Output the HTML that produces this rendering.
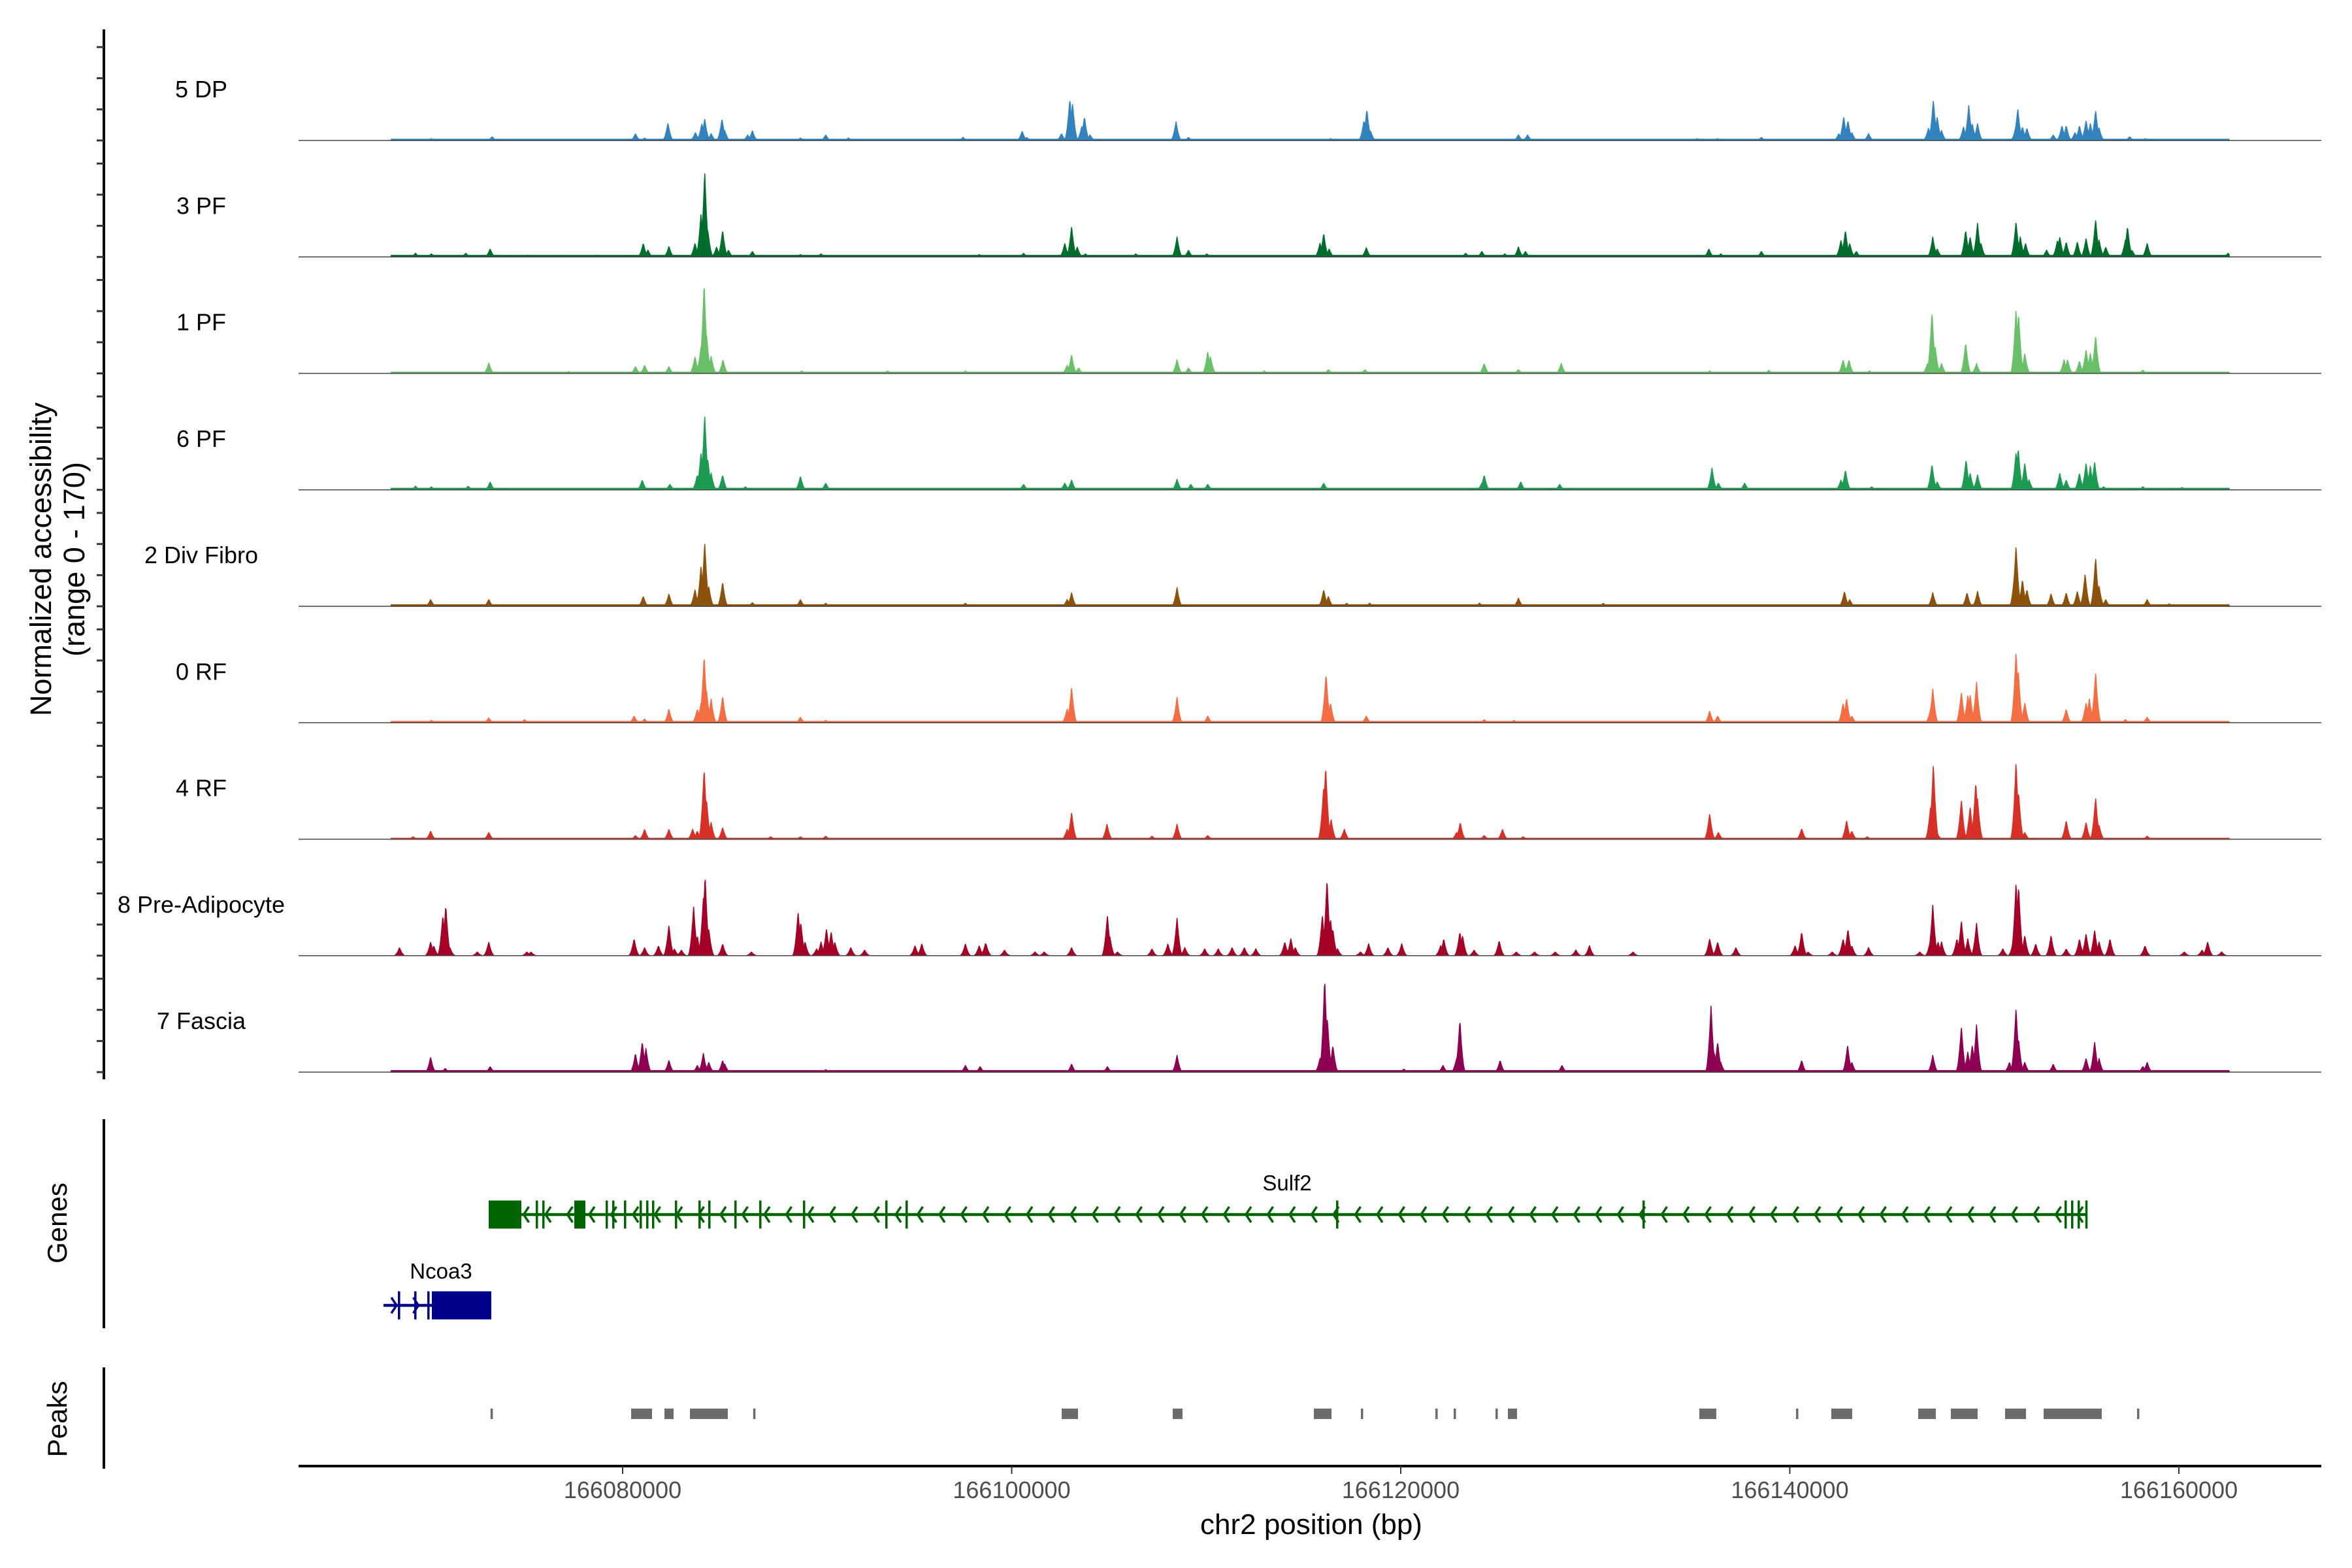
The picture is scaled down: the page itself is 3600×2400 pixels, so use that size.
<!DOCTYPE html>
<html><head><meta charset="utf-8">
<style>
html,body{margin:0;padding:0;background:#fff;}
svg{display:block;font-family:"Liberation Sans",sans-serif;}
</style></head>
<body>
<svg id="chart" xmlns="http://www.w3.org/2000/svg" width="3600" height="2400" viewBox="0 0 3600 2400">
<rect width="3600" height="2400" fill="#fff"/>
<g id="tracks"></g>
<g id="yaxis"></g>
<g id="genes"></g>
<g id="peaks"></g>
<g id="xaxis"></g>
<text transform="translate(78,856) rotate(-90)" text-anchor="middle" font-size="45" fill="#000">Normalized accessibility</text>
<text transform="translate(129,856) rotate(-90)" text-anchor="middle" font-size="45" fill="#000">(range 0 - 170)</text>
<text transform="translate(102,1872) rotate(-90)" text-anchor="middle" font-size="42" fill="#000">Genes</text>
<text transform="translate(102,2172) rotate(-90)" text-anchor="middle" font-size="42" fill="#000">Peaks</text>
<text x="2007" y="2348" text-anchor="middle" font-size="44" fill="#000">chr2 position (bp)</text>
</svg>
<script>
// ---- data (positions in kb relative to 166,000 kb; values in normalized accessibility 0-170) ----
const trackNames = ["5 DP","3 PF","1 PF","6 PF","2 Div Fibro","0 RF","4 RF","8 Pre-Adipocyte","7 Fascia"];
const trackColors = ["#3182bd","#006d2c","#6abf69","#1d9a52","#8c510a","#f46d43","#d73027","#a50026","#8e0152"];
const floorLevel = [2,2.5,2,2.5,2.5,2,1.5,0,2.5];
const coverageStartKb = 68.1;
const coverageEndKb = 162.6;
const peaksDP5 = [[70.17,3],[73.29,6],[80.66,11],[81.13,4],[82.33,28],[83.74,13],[84.07,27],[84.22,35],[84.55,11],[85.11,35],[85.25,16],[86.67,16],[86.43,9],[89.14,4],[90.44,9],[91.61,4],[97.50,5],
[100.54,15],[100.77,5],[102.56,11],[102.99,67],[103.13,60],[103.60,22],[103.74,38],[104.03,9],[108.45,30],[109.09,5],[116.39,3],[118.11,32],[118.26,50],[118.44,16],[126.05,9],[126.52,9],[135.24,3],
[136.29,3],[138.54,5],[142.52,11],[142.77,38],[142.99,32],[143.19,13],[144.05,11],[147.13,20],[147.38,65],[147.58,38],[147.80,16],[148.93,22],[149.20,56],[149.38,27],[149.65,27],[151.63,24],[151.72,51],[151.96,22],[152.19,20],[153.54,9],[153.99,24],[154.21,24],[154.66,13],[154.89,24],[155.23,32],[155.45,27],[155.72,48],[155.90,20],[157.47,6],[158.26,3]];
const peaksPF3 = [[69.35,6],[70.17,5],[71.94,6],[73.19,13],[75.12,3],[76.77,3],[78.66,3],[81.06,22],[81.30,11],[82.38,17],[83.72,22],[84.03,70],[84.22,138],[84.38,43],[84.83,16],[85.14,43],[85.44,11],[86.67,9],[89.14,4],[90.20,5],[98.33,4],
[100.61,6],[102.73,22],[103.08,49],[103.37,16],[103.79,5],[106.38,5],[108.50,32],[109.09,11],[110.03,5],[116.04,38],[115.85,22],[116.32,13],[118.23,15],[123.34,6],[124.17,9],[125.35,5],[126.05,16],[126.41,9],[135.24,3],
[135.84,13],[136.45,5],[138.54,9],[142.63,27],[142.86,43],[143.08,22],[143.42,9],[147.35,32],[147.58,13],[149.04,43],[149.27,32],[149.65,54],[149.83,22],[151.63,56],[151.85,32],[152.12,22],[153.20,11],[153.76,27],[153.88,32],[154.21,24],[154.78,24],[155.23,30],[155.72,60],[155.90,27],[156.24,16],[157.36,49],[157.25,27],[157.59,11],[158.37,22],[162.53,6]];
const peaksPF1 = [[73.12,17],[77.24,3],[80.66,11],[81.13,13],[82.38,11],[83.72,27],[84.03,43],[84.19,146],[84.31,65],[84.55,27],[85.16,22],[89.21,4],[93.62,4],[97.62,4],
[103.08,30],[102.85,13],[103.44,9],[108.50,22],[109.09,9],[110.08,35],[110.22,27],[112.98,4],[116.28,6],[118.16,6],[124.29,16],[126.05,6],[128.25,16],
[135.88,4],[138.92,5],[142.74,22],[143.04,22],[144.09,4],[147.08,16],[147.31,100],[147.47,43],[147.80,16],[149.04,49],[149.60,16],[151.63,103],[151.76,97],[152.08,32],[154.10,22],[154.28,22],[154.89,20],[155.23,38],[155.72,60],[155.45,32],[158.15,5]];
const peaksPF6 = [[69.35,6],[70.17,5],[72.06,6],[73.19,13],[81.01,16],[82.43,9],[83.84,24],[84.03,60],[84.22,121],[84.38,49],[84.55,27],[85.14,24],[86.31,5],[89.14,22],[90.44,11],
[100.61,9],[102.73,11],[103.08,16],[108.50,17],[109.21,9],[110.08,9],[116.04,11],[124.29,24],[124.17,11],[126.17,13],[128.17,9],
[136.00,35],[136.33,11],[137.68,11],[142.86,32],[142.63,16],[144.21,5],[147.31,41],[147.58,13],[149.06,49],[149.27,27],[149.65,24],[151.63,60],[151.74,67],[152.08,43],[152.30,16],[153.88,27],[154.21,16],[154.89,27],[155.23,43],[155.67,45],[155.45,38],[156.13,5],[158.15,5],[160.17,4]];
const peaksFibro2 = [[70.13,11],[73.12,11],[81.06,16],[82.38,20],[83.72,27],[84.03,65],[84.22,103],[84.43,32],[85.14,39],[86.67,6],[89.14,11],[90.44,5],[97.62,5],
[103.08,22],[102.85,11],[108.50,30],[116.04,27],[116.28,16],[117.22,5],[118.40,5],[126.05,13],[124.05,5],[130.41,5],
[142.81,24],[143.08,11],[147.35,22],[149.11,22],[149.65,24],[151.63,97],[151.58,65],[151.96,43],[152.19,27],[153.43,20],[154.21,22],[154.78,24],[155.18,52],[155.72,78],[155.90,32],[156.24,11],[158.37,11],[159.50,4]];
const peaksRF0 = [[70.17,4],[73.12,8],[74.96,5],[80.59,11],[81.13,6],[82.38,22],[83.84,22],[84.03,32],[84.19,108],[84.31,54],[84.55,38],[85.14,43],[89.14,9],[90.44,4],
[103.08,57],[102.85,22],[108.50,41],[110.08,11],[116.16,79],[116.39,32],[118.23,11],[124.29,5],[125.82,4],
[135.88,19],[136.29,11],[142.74,32],[142.92,39],[143.19,11],[147.35,54],[147.24,22],[148.82,49],[149.15,43],[149.27,45],[149.60,65],[151.63,114],[151.74,86],[152.08,32],[154.21,22],[155.23,32],[155.40,38],[155.72,81],[158.37,9],[157.25,5]];
const peaksRF4 = [[69.23,4],[70.13,13],[73.12,11],[80.66,6],[81.13,16],[82.38,16],[83.60,16],[83.84,13],[84.19,114],[84.31,65],[84.55,27],[85.14,19],[87.61,4],[89.14,4],[90.44,5],
[103.08,43],[102.85,16],[104.90,24],[107.21,5],[108.50,24],[110.08,6],[116.04,86],[116.14,117],[116.42,32],[117.10,16],[123.06,27],[122.87,11],[124.29,6],[125.23,16],[126.29,4],
[135.88,41],[136.33,11],[140.61,17],[142.92,30],[143.19,13],[143.98,4],[147.24,54],[147.38,121],[147.58,9],[148.82,63],[149.27,52],[149.56,92],[149.65,65],[151.63,124],[151.76,76],[152.08,11],[154.21,30],[155.23,27],[155.72,67],[155.90,22],[158.37,5]];
const peaksPreAd8 = [[68.53,13],[70.13,22],[70.29,16],[70.76,65],[70.91,81],[71.12,13],[72.53,6],[73.12,22],[75.08,6],[75.29,6],[80.59,27],[81.13,13],[81.84,16],[82.38,49],[82.66,11],[83.02,9],[83.65,78],[83.84,32],[84.15,92],[84.24,130],[84.43,43],[85.14,19],[86.62,6],[89.02,70],[89.16,54],[89.38,22],[89.97,11],[90.20,22],[90.48,43],[90.72,38],[90.91,22],[91.73,13],[92.44,9],[95.03,16],[95.38,19],[97.62,19],[98.33,16],[98.68,19],[99.63,9],
[98.65,19],[99.67,6],[101.20,6],[101.67,6],[103.08,13],[104.92,65],[105.04,32],[105.44,6],[107.21,11],[108.03,19],[108.50,60],[108.90,13],[109.92,11],[110.62,11],[111.33,13],[111.96,13],[112.55,11],[114.04,22],[114.35,27],[114.58,13],[115.97,65],[116.21,124],[116.39,60],[116.51,43],[116.75,11],[117.93,6],[118.35,19],[119.34,13],[120.05,19],[122.05,16],[122.21,27],[123.04,38],[123.18,32],[123.77,9],[125.06,24],[125.94,6],[126.88,6],[127.94,6],[129.00,9],[129.70,16],[131.94,6],
[135.88,27],[136.29,22],[137.23,13],[140.27,16],[140.61,38],[140.94,6],[142.18,6],[142.74,27],[142.99,43],[143.19,16],[144.05,13],[146.68,6],[147.24,27],[147.35,81],[147.62,22],[147.80,22],[148.59,27],[148.82,56],[149.15,27],[149.60,52],[150.95,11],[151.51,27],[151.63,117],[151.76,113],[152.08,32],[152.64,19],[153.43,32],[154.21,11],[154.89,27],[155.23,35],[155.67,41],[155.90,22],[156.46,27],[158.26,16],[160.28,6],[161.19,9],[161.48,22],[162.20,6]];
const peaksFascia7 = [[70.13,24],[70.88,6],[73.19,9],[80.66,30],[81.01,49],[81.20,38],[82.38,19],[83.84,11],[84.15,30],[84.43,16],[85.14,19],[85.25,13],[90.44,4],[97.62,11],[98.38,9],
[103.08,13],[104.92,9],[108.50,27],[115.85,22],[116.09,151],[116.23,86],[116.51,43],[120.16,5],[122.17,11],[123.04,84],[122.87,22],[125.11,19],[128.29,11],
[135.95,106],[136.11,32],[136.29,49],[136.45,16],[140.61,19],[142.97,43],[143.19,16],[147.35,27],[148.82,73],[149.15,32],[149.38,43],[149.60,76],[151.29,16],[151.63,103],[151.76,54],[152.08,16],[153.54,13],[155.23,22],[155.67,49],[155.90,22],[158.37,16],[158.15,9]];
const trackPeaks = [peaksDP5,peaksPF3,peaksPF1,peaksPF6,peaksFibro2,peaksRF0,peaksRF4,peaksPreAd8,peaksFascia7];
const yTickValues = [0,50,100,150];
const yMax = 170;
const xTickKb = [80,100,120,140,160];
const xTickLabels = ["166080000","166100000","166120000","166140000","166160000"];
const sulf2Range = [73.115,155.264];
const sulf2Exons = [[73.115,74.794],[75.533,75.62],[75.869,75.95],[77.515,78.086],[79.127,79.2],[79.463,79.53],[80.067,80.13],[80.873,80.94],[81.209,81.27],[81.511,81.58],[82.687,82.75],[83.896,83.96],[84.400,84.46],[85.743,85.81],[87.019,87.08],[89.269,89.33],[93.501,93.57],[94.542,94.61],[116.675,116.75],[132.426,132.5],[154.122,154.19],[154.458,154.52],[154.794,154.86],[155.19,155.264]];
const ncoa3Range = [67.708,73.249];
const ncoa3Exons = [[68.447,68.51],[69.286,69.35],[69.958,70.02],[70.193,73.249]];
const peakRegions = [[73.21,73.29],[80.437,81.511],[82.149,82.62],[83.459,85.407],[86.71,86.79],[102.569,103.409],[108.278,108.782],[115.533,116.44],[117.95,118.02],[121.78,121.85],[122.72,122.79],[124.87,124.94],[125.508,125.978],[135.348,136.221],[140.32,140.39],[142.132,143.207],[146.599,147.506],[148.278,149.655],[151.066,152.141],[153.048,156.036],[157.85,157.92]];

// ---- scales ----
const NS='http://www.w3.org/2000/svg';
function xS(kb){return 953+(kb-80)*29.775;}
const baseY0=215, trackGap=178.25, trackH=162;
function yS(i,v){return baseY0+trackGap*i - v/yMax*trackH;}
function mk(tag,attrs,parent){const e=document.createElementNS(NS,tag);for(const k in attrs)e.setAttribute(k,attrs[k]);parent.appendChild(e);return e;}

// ---- coverage tracks ----
const gT=document.getElementById('tracks');
const halfW=0.3, step=0.025;
trackPeaks.forEach((pk,i)=>{
  const base=baseY0+trackGap*i;
  const lab=mk('text',{x:308,y:base-66,'text-anchor':'middle','font-size':36,fill:'#000'},gT);
  lab.textContent=trackNames[i];
  
  
  let d='M'+xS(coverageStartKb).toFixed(1)+','+base;
  for(let kb=coverageStartKb;kb<=coverageEndKb;kb+=step){
    let v=floorLevel[i];
    for(const p of pk){const dd=Math.abs(kb-p[0]);if(dd<halfW){const f=1-dd/halfW;const h=p[1]*f*f;if(h>v)v=h;}}
    d+='L'+xS(kb).toFixed(1)+','+yS(i,v).toFixed(1);
  }
  d+='L'+xS(coverageEndKb).toFixed(1)+','+base+'Z';
  const path=mk('path',{d:d,fill:trackColors[i],stroke:trackColors[i],'stroke-width':1.5,'stroke-linejoin':'round'},gT);
  
  
  const bl=mk('line',{x1:457,x2:3553,y1:base,y2:base,stroke:'#444','stroke-width':1.6},gT);
  
  
});

// ---- left y axis ----
const gY=document.getElementById('yaxis');
const ya=mk('line',{x1:159,x2:159,y1:45,y2:1652,stroke:'#000','stroke-width':4},gY);


trackNames.forEach((n,i)=>{
  yTickValues.forEach(v=>{
    const y=yS(i,v);
    const t=mk('line',{x1:148,x2:159,y1:y,y2:y,stroke:'#333','stroke-width':3},gY);
    
    
  });
});

// ---- genes ----
const gG=document.getElementById('genes');
const ga=mk('line',{x1:159,x2:159,y1:1713,y2:2033,stroke:'#000','stroke-width':4},gG);


function drawGene(range,exons,y,color,dir,name,labelX,labelY,label){
  const g=mk('g',{},gG);
  
  
  mk('line',{x1:xS(range[0]),x2:xS(range[1]),y1:y,y2:y,stroke:color,'stroke-width':4.5},g);
  let cd='';
  const x0=xS(range[0]),x1=xS(range[1]);
  for(let x=x0+20;x<x1-10;x+=33.5){
    if(dir<0) cd+='M'+(x+8)+','+(y-12)+'L'+x+','+y+'L'+(x+8)+','+(y+12);
    else cd+='M'+(x-8)+','+(y-12)+'L'+x+','+y+'L'+(x-8)+','+(y+12);
  }
  mk('path',{d:cd,fill:'none',stroke:color,'stroke-width':3.5},g);
  exons.forEach(e=>{
    const xa=xS(e[0]),xb=xS(e[1]);
    const r=mk('rect',{x:xa,y:y-21.5,width:Math.max(xb-xa,3.5),height:43,fill:color},g);
    
    
  });
  const t=mk('text',{x:labelX,y:labelY,'text-anchor':'middle','font-size':33,fill:'#000'},g);
  t.textContent=label;
  
  
}
drawGene(sulf2Range,sulf2Exons,1859,'#006400',-1,'gene-sulf2',1970,1822,'Sulf2');
drawGene(ncoa3Range,ncoa3Exons,1998,'#00008b',1,'gene-ncoa3',675,1957,'Ncoa3');

// ---- peaks ----
const gP=document.getElementById('peaks');
const pa=mk('line',{x1:159,x2:159,y1:2093,y2:2248,stroke:'#000','stroke-width':4},gP);


peakRegions.forEach(p=>{
  const xa=xS(p[0]),xb=xS(p[1]);
  const r=mk('rect',{x:xa,y:2156,width:Math.max(xb-xa,3.5),height:16,fill:'#6b6b6b'},gP);
  
  
});

// ---- x axis ----
const gX=document.getElementById('xaxis');
const xa=mk('line',{x1:457,x2:3553,y1:2244,y2:2244,stroke:'#000','stroke-width':4},gX);


xTickKb.forEach((kb,i)=>{
  const x=xS(kb);
  const t=mk('line',{x1:x,x2:x,y1:2244,y2:2256,stroke:'#333','stroke-width':2},gX);
  
  
  const l=mk('text',{x:x,y:2293,'text-anchor':'middle','font-size':36,fill:'#4d4d4d'},gX);
  l.textContent=xTickLabels[i];
  
  
});
</script>
</body></html>
